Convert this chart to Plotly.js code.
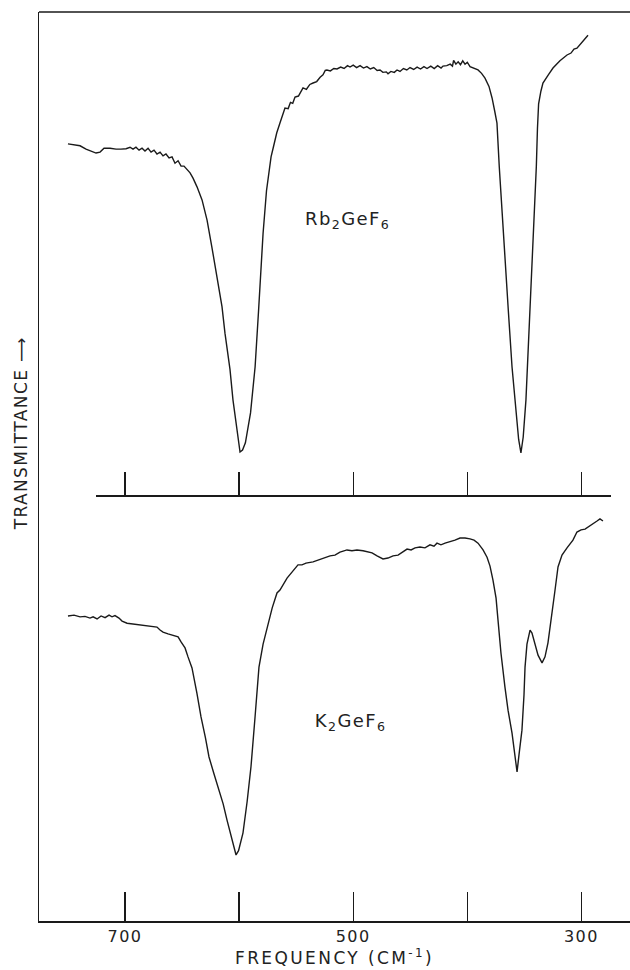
<!DOCTYPE html>
<html>
<head>
<meta charset="utf-8">
<script src="https://cdn.plot.ly/plotly-3.0.1.min.js"></script>
<style>
html,body{margin:0;padding:0;background:#fff;}
#chart{width:630px;height:970px;}
#chart .xtitle{letter-spacing:2.4px;}
#chart .xtick text{letter-spacing:1.5px;}
#chart .annotation-text{letter-spacing:1.4px;}
</style>
</head>
<body>
<div id="chart"></div>
<script>
// Rb2GeF6 spectrum (upper panel): frequency (cm-1) and transmittance (arbitrary %)
const rbFreq = [750.0, 744.7, 739.4, 734.2, 729.8, 725.4, 721.9, 718.4, 713.1, 707.9, 703.5, 699.1, 695.6, 693.0, 690.4, 687.7, 685.1, 682.5, 679.8, 677.2, 674.6, 672.0, 669.3, 666.7, 664.1, 661.4, 658.8, 656.2, 653.5, 650.9, 648.3, 645.7, 643.0, 640.4, 636.9, 632.5, 628.1, 624.0, 619.4, 615.0, 612.4, 608.0, 605.4, 602.0, 600.0, 599.2, 597.0, 594.5, 590.0, 586.0, 583.0, 579.0, 576.0, 572.0, 570.0, 567.0, 564.2, 562.0, 559.8, 557.0, 555.0, 553.0, 551.0, 548.0, 546.0, 544.0, 541.0, 538.0, 535.2, 532.0, 529.0, 526.5, 524.5, 523.0, 520.0, 517.0, 514.2, 511.0, 508.0, 505.0, 502.8, 500.0, 497.0, 494.0, 491.0, 488.0, 485.0, 482.0, 479.0, 476.5, 474.0, 471.0, 469.5, 467.0, 464.0, 461.6, 459.0, 456.0, 453.0, 450.2, 447.0, 444.0, 441.0, 438.0, 435.3, 432.0, 429.0, 426.0, 423.0, 421.3, 418.0, 415.0, 413.0, 412.0, 410.0, 408.0, 406.0, 404.0, 402.0, 400.0, 397.6, 394.0, 390.6, 387.5, 384.5, 381.0, 378.3, 376.0, 374.0, 372.0, 370.0, 367.8, 364.0, 360.8, 357.0, 355.0, 353.0, 351.0, 348.6, 346.0, 343.3, 341.0, 339.5, 338.5, 337.5, 335.5, 333.7, 329.0, 324.9, 318.8, 312.6, 309.1, 306.5, 303.9, 301.2, 297.7, 294.2];
const rbT = [72.7, 72.5, 72.3, 71.6, 71.2, 70.8, 71.0, 71.8, 71.8, 71.6, 71.6, 71.7, 72.0, 71.6, 72.0, 71.4, 71.8, 71.2, 71.8, 71.0, 71.4, 70.6, 71.0, 70.2, 70.6, 69.8, 70.0, 68.7, 69.2, 68.1, 68.1, 67.5, 66.7, 65.6, 63.8, 61.1, 56.9, 51.5, 45.1, 39.0, 33.5, 26.0, 19.7, 13.5, 9.8, 8.9, 9.3, 10.8, 17.0, 26.5, 38.0, 54.2, 63.0, 70.0, 72.0, 75.0, 77.0, 78.6, 80.1, 80.0, 81.3, 81.1, 82.4, 82.6, 83.6, 84.3, 84.0, 85.0, 85.3, 85.6, 86.5, 87.0, 87.9, 88.0, 87.8, 88.3, 88.2, 88.6, 88.3, 88.9, 88.6, 89.0, 88.5, 88.9, 88.4, 88.7, 88.2, 88.5, 87.9, 88.0, 87.5, 87.6, 87.2, 87.7, 87.5, 88.0, 87.7, 88.3, 88.0, 88.5, 88.1, 88.6, 88.2, 88.7, 88.3, 88.8, 88.3, 88.9, 88.4, 88.8, 88.9, 89.2, 88.8, 90.0, 89.2, 89.7, 89.1, 89.9, 89.2, 89.6, 88.7, 88.4, 88.0, 87.3, 86.3, 84.6, 82.2, 79.5, 77.0, 68.0, 60.0, 50.7, 38.0, 26.5, 16.0, 11.5, 8.7, 12.0, 19.7, 33.0, 47.2, 58.0, 68.0, 76.0, 81.0, 83.6, 85.3, 87.0, 88.4, 89.9, 91.1, 91.5, 92.3, 92.5, 93.2, 94.2, 95.2];

// K2GeF6 spectrum (lower panel)
const kFreq = [750.0, 744.7, 739.4, 735.1, 730.7, 728.0, 724.5, 721.0, 717.5, 714.0, 711.4, 708.8, 705.3, 702.6, 698.2, 693.0, 686.9, 680.7, 675.5, 672.0, 669.3, 666.7, 662.3, 657.9, 655.3, 653.5, 650.9, 647.4, 644.8, 641.3, 637.0, 633.4, 629.5, 626.4, 622.0, 617.6, 614.0, 610.6, 606.0, 602.7, 600.5, 599.0, 596.6, 593.0, 589.6, 586.0, 582.6, 579.0, 575.5, 571.0, 566.8, 564.2, 558.0, 553.6, 548.4, 544.9, 541.4, 535.2, 530.9, 526.5, 520.3, 516.0, 511.6, 508.1, 505.5, 501.1, 496.7, 491.4, 487.0, 483.5, 479.1, 473.9, 469.5, 465.1, 460.7, 456.4, 452.8, 449.3, 445.8, 441.5, 437.1, 432.7, 429.2, 426.6, 423.1, 419.5, 415.2, 410.8, 406.4, 402.0, 397.6, 394.1, 390.6, 386.2, 382.7, 380.1, 377.5, 374.8, 373.1, 370.5, 367.0, 364.3, 360.8, 358.2, 356.4, 354.7, 352.1, 350.3, 349.4, 347.7, 345.0, 343.3, 340.7, 338.0, 334.5, 331.9, 329.3, 326.6, 324.9, 323.1, 320.5, 317.0, 312.6, 310.0, 307.4, 303.9, 300.3, 296.8, 293.3, 289.8, 286.3, 283.7, 281.1];
const kT = [71.6, 71.8, 71.4, 71.5, 71.1, 71.4, 70.9, 71.6, 71.2, 71.8, 71.4, 71.7, 71.1, 70.4, 69.9, 69.7, 69.5, 69.2, 69.1, 69.0, 68.3, 67.8, 67.4, 67.1, 66.9, 66.7, 65.5, 64.1, 62.0, 59.4, 53.5, 47.9, 43.0, 38.5, 34.5, 30.8, 27.5, 23.7, 19.0, 15.5, 16.5, 18.0, 20.7, 28.0, 36.2, 48.0, 59.6, 65.0, 69.0, 73.5, 77.0, 77.7, 80.5, 81.9, 83.6, 83.6, 84.0, 84.3, 84.7, 85.2, 85.7, 85.9, 86.6, 86.9, 87.1, 86.9, 87.1, 86.9, 86.6, 86.4, 85.7, 85.0, 85.2, 85.7, 85.9, 86.6, 87.3, 87.1, 87.6, 87.8, 87.6, 88.3, 88.0, 88.7, 88.3, 88.7, 89.0, 89.4, 89.9, 89.9, 89.7, 89.4, 88.7, 87.1, 85.4, 83.3, 80.0, 75.8, 70.7, 62.9, 54.9, 49.5, 44.1, 39.0, 35.0, 39.0, 44.8, 53.1, 59.6, 65.0, 68.3, 67.6, 65.3, 62.4, 60.6, 62.0, 65.3, 70.2, 73.7, 77.7, 83.1, 85.9, 87.6, 88.5, 89.4, 91.3, 91.8, 92.0, 92.7, 93.2, 93.9, 94.4, 93.9];

// Axis ticks
const majorTicks = [700, 500, 300];
const majorLabels = ['700', '500', '300'];
const minorTicks = [600, 400];
const allTicks = [700, 600, 500, 400, 300];

const xRange = [775.4, 257.4];
const splitFrac = 426 / 909;
const midDomain = [(96 - 39) / 591, (611 - 39) / 591];
const midRange = [xRange[0] + (xRange[1] - xRange[0]) * midDomain[0], xRange[0] + (xRange[1] - xRange[0]) * midDomain[1]];

const ink = '#1a1a1a';
const textInk = '#222';
const font = 'DejaVu Sans, sans-serif';

const traces = [
  {x: rbFreq, y: rbT, xaxis: 'x', yaxis: 'y2', mode: 'lines', line: {color: ink, width: 1.4}, hoverinfo: 'skip'},
  {x: kFreq, y: kT, xaxis: 'x', yaxis: 'y', mode: 'lines', line: {color: ink, width: 1.4}, hoverinfo: 'skip'},
  {x: [], y: [], xaxis: 'x2', yaxis: 'y2', mode: 'lines', hoverinfo: 'skip'}
];

const layout = {
  width: 630, height: 970,
  margin: {l: 39, r: 0, t: 12, b: 49},
  paper_bgcolor: '#fff', plot_bgcolor: 'rgba(0,0,0,0)',
  showlegend: false,
  font: {family: font, color: textInk},
  xaxis: {
    range: xRange, anchor: 'y', domain: [0, 1],
    showline: true, linecolor: ink, linewidth: 1.5,
    ticks: 'inside', ticklen: 29, tickwidth: 1.3, tickcolor: ink,
    tickmode: 'array', tickvals: majorTicks, ticktext: majorLabels,
    minor: {tickmode: 'array', tickvals: minorTicks, ticks: 'inside', ticklen: 29, tickwidth: 1.3, tickcolor: ink, showgrid: false},
    tickfont: {size: 16, family: font, color: textInk},
    showgrid: false, zeroline: false,
    title: {text: 'FREQUENCY (CM<sup>-1</sup>)', font: {size: 17, family: font, color: textInk}, standoff: 2}
  },
  xaxis2: {
    range: midRange, anchor: 'y2', domain: midDomain,
    showline: true, linecolor: ink, linewidth: 1.5,
    ticks: 'inside', ticklen: 23, tickwidth: 1.3, tickcolor: ink,
    tickmode: 'array', tickvals: allTicks, showticklabels: false,
    showgrid: false, zeroline: false
  },
  yaxis: {
    range: [0, 100], domain: [0, splitFrac], anchor: 'x',
    showline: true, linecolor: ink, linewidth: 1.5,
    showticklabels: false, ticks: '', showgrid: false, zeroline: false
  },
  yaxis2: {
    range: [0, 100], domain: [splitFrac, 1], anchor: 'x',
    showline: true, linecolor: ink, linewidth: 1.5,
    showticklabels: false, ticks: '', showgrid: false, zeroline: false
  },
  shapes: [
    {type: 'line', xref: 'paper', yref: 'paper', x0: 0, x1: 1, y0: 1, y1: 1, line: {color: ink, width: 1.6}}
  ],
  annotations: [
    {text: 'TRANSMITTANCE ⟶', textangle: -90, xref: 'paper', yref: 'paper', x: -0.0305, y: 0.537,
     xanchor: 'center', yanchor: 'middle', showarrow: false, font: {size: 17, family: font, color: textInk}},
    {text: 'Rb<sub>2</sub>GeF<sub>6</sub>', xref: 'x', yref: 'y2', x: 505, y: 56.9,
     showarrow: false, font: {size: 18, family: font, color: textInk}},
    {text: 'K<sub>2</sub>GeF<sub>6</sub>', xref: 'x', yref: 'y', x: 502, y: 46.7,
     showarrow: false, font: {size: 18, family: font, color: textInk}}
  ]
};

Plotly.newPlot('chart', traces, layout, {staticPlot: true, displayModeBar: false});
</script>
</body>
</html>
